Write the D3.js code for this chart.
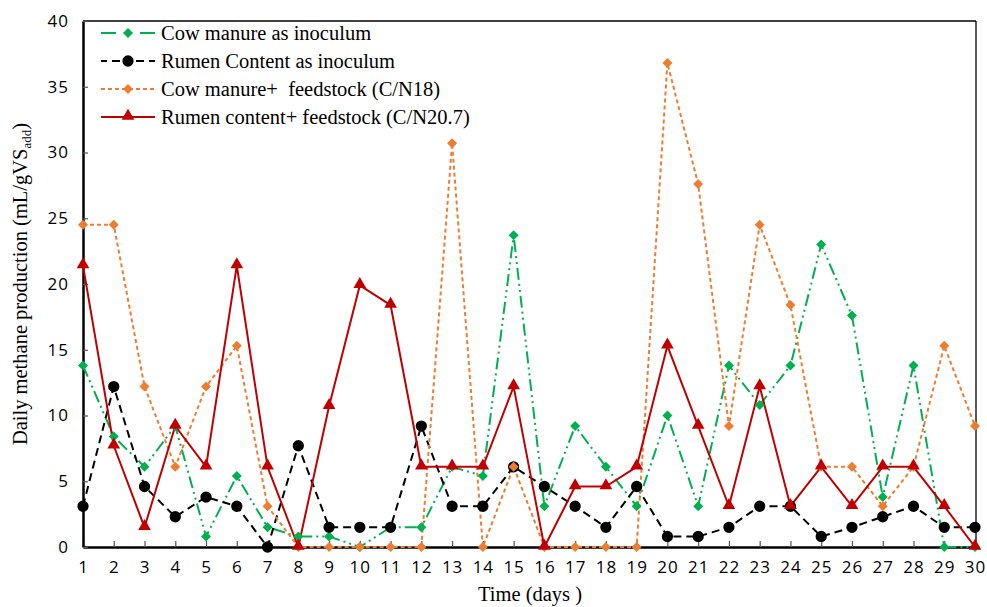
<!DOCTYPE html>
<html>
<head>
<meta charset="utf-8">
<script src="https://cdn.jsdelivr.net/npm/d3@7"></script>
<style>
  html, body { margin: 0; padding: 0; background: #fff; }
  svg { display: block; }
</style>
</head>
<body>
<svg id="chart" width="987" height="607"></svg>
<script>
// Daily methane production over 30 days, four inoculum / feedstock setups
const days = d3.range(1, 31);

const cowManureInoculum = [13.8, 8.4, 6.1, 9.2, 0.8, 5.4, 1.5, 0.8, 0.8, 0, 1.5, 1.5, 6.1, 5.4, 23.7,
  3.1, 9.2, 6.1, 3.1, 10.0, 3.1, 13.8, 10.8, 13.8, 23.0, 17.6, 3.8, 13.8, 0, 0];
const rumenInoculum = [3.1, 12.2, 4.6, 2.3, 3.8, 3.1, 0, 7.7, 1.5, 1.5, 1.5, 9.2, 3.1, 3.1, 6.1,
  4.6, 3.1, 1.5, 4.6, 0.8, 0.8, 1.5, 3.1, 3.1, 0.8, 1.5, 2.3, 3.1, 1.5, 1.5];
const cowManureFeed = [24.5, 24.5, 12.2, 6.1, 12.2, 15.3, 3.1, 0, 0, 0, 0, 0, 30.7, 0, 6.1,
  0, 0, 0, 0, 36.8, 27.6, 9.2, 24.5, 18.4, 6.1, 6.1, 3.1, 6.1, 15.3, 9.2];
const rumenFeed = [21.4, 7.7, 1.5, 9.2, 6.1, 21.4, 6.1, 0, 10.7, 19.9, 18.4, 6.1, 6.1, 6.1, 12.2,
  0, 4.6, 4.6, 6.1, 15.3, 9.2, 3.1, 12.2, 3.1, 6.1, 3.1, 6.1, 6.1, 3.1, 0];

const yTicks = [0, 5, 10, 15, 20, 25, 30, 35, 40];

const series = [
  { name: "Cow manure as inoculum", values: cowManureInoculum, color: "#00B050",
    dash: "12,4,2,4,2,4", legendDash: "15,24,15", marker: "diamond", width: 2 },
  { name: "Rumen Content as inoculum", values: rumenInoculum, color: "#000000",
    dash: "8,5", legendDash: "6,5,8,5", marker: "circle", width: 2 },
  { name: "Cow manure+  feedstock (C/N18)", values: cowManureFeed, color: "#ED7D31",
    dash: "4,3", legendDash: "4,3", marker: "diamond", width: 2 },
  { name: "Rumen content+ feedstock (C/N20.7)", values: rumenFeed, color: "#C00000",
    dash: null, legendDash: null, marker: "triangle", width: 2 }
];

const svg = d3.select("#chart");
const plot = { left: 83, right: 975, top: 21, bottom: 547 };

const x = d3.scaleLinear().domain([1, 30]).range([plot.left, plot.right]);
const y = d3.scaleLinear().domain([0, 40]).range([plot.bottom, plot.top]);

// frame (thin top / right)
svg.append("line").attr("x1", plot.left).attr("x2", plot.right + 1)
  .attr("y1", plot.top).attr("y2", plot.top).attr("stroke", "#000").attr("stroke-width", 1.3);
svg.append("line").attr("x1", plot.right + 1).attr("x2", plot.right + 1)
  .attr("y1", plot.top).attr("y2", plot.bottom).attr("stroke", "#000").attr("stroke-width", 1.3);

// axes
const tickFont = "'Open Sans', 'DejaVu Sans', sans-serif";
const xAxis = d3.axisBottom(x).tickValues(days).tickFormat(d3.format("d"))
  .tickSizeInner(-6).tickSizeOuter(0).tickPadding(14);
const gx = svg.append("g").attr("transform", `translate(0,${plot.bottom})`).call(xAxis);
gx.select(".domain").attr("stroke-width", 2.5);
gx.selectAll(".tick line").attr("stroke-width", 1.2).attr("stroke", "#555");
gx.selectAll(".tick text").attr("font-family", tickFont).attr("font-size", 17)
  .attr("fill", "#000").attr("letter-spacing", 1);

const yAxis = d3.axisLeft(y).tickValues(yTicks)
  .tickSizeInner(-5).tickSizeOuter(0).tickPadding(14);
const gy = svg.append("g").attr("transform", `translate(${plot.left},0)`).call(yAxis);
gy.select(".domain").attr("stroke-width", 2.5);
gy.selectAll(".tick line").attr("stroke-width", 1.2).attr("stroke", "#555");
gy.selectAll(".tick text").attr("font-family", tickFont).attr("font-size", 17)
  .attr("fill", "#000").attr("letter-spacing", 1);

// marker shapes
const symbolFor = {
  diamond: d3.symbol().type(d3.symbolSquare).size(50),
  circle: d3.symbol().type(d3.symbolCircle).size(100),
  triangle: d3.symbol().type(d3.symbolTriangle).size(70)
};
function drawMarker(g, s, cx, cy) {
  const p = g.append("path").attr("d", symbolFor[s.marker]()).attr("fill", s.color);
  if (s.marker === "diamond") p.attr("transform", `translate(${cx},${cy}) rotate(45)`);
  else if (s.marker === "triangle") p.attr("transform", `translate(${cx},${cy - 1})`);
  else p.attr("transform", `translate(${cx},${cy})`);
}

const line = d3.line().x((d, i) => x(days[i])).y(d => y(d));

series.forEach(s => {
  const g = svg.append("g");
  g.append("path").datum(s.values).attr("d", line)
    .attr("fill", "none").attr("stroke", s.color).attr("stroke-width", s.width)
    .attr("stroke-dasharray", s.dash).attr("stroke-linejoin", "round");
});
series.forEach(s => {
  const g = svg.append("g");
  s.values.forEach((v, i) => drawMarker(g, s, x(days[i]), y(v)));
});

// legend
const serif = "'Liberation Serif', 'Times New Roman', serif";
const leg = svg.append("g");
series.forEach((s, i) => {
  const cy = 33 + i * 28;
  leg.append("line").attr("x1", 101).attr("x2", 155).attr("y1", cy).attr("y2", cy)
    .attr("stroke", s.color).attr("stroke-width", s.width)
    .attr("stroke-dasharray", s.legendDash);
  drawMarker(leg, s, 128, cy);
  leg.append("text").attr("x", 161).attr("y", cy + 7).text(s.name)
    .attr("font-family", serif).attr("font-size", 20.5).attr("fill", "#000")
    .style("white-space", "pre");
});

// axis titles
svg.append("text").attr("x", 530).attr("y", 601).attr("text-anchor", "middle")
  .attr("font-family", serif).attr("font-size", 20.5).text("Time (days )");

const yt = svg.append("text").attr("transform", "translate(27,284) rotate(-90)")
  .attr("text-anchor", "middle").attr("font-family", serif).attr("font-size", 20.5);
yt.append("tspan").text("Daily methane production (mL/gVS");
yt.append("tspan").attr("font-size", 13).attr("dy", 4).text("add");
yt.append("tspan").attr("dy", -4).text(")");
</script>
</body>
</html>
